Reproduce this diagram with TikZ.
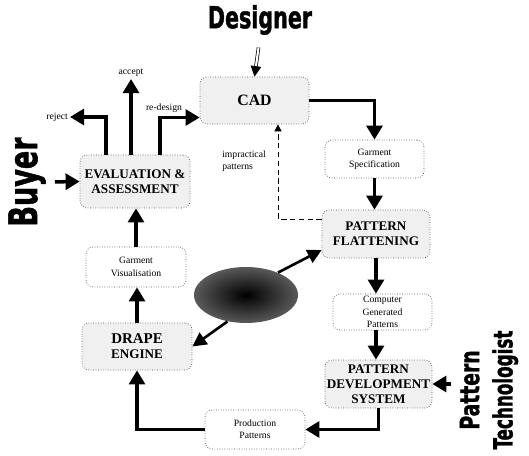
\documentclass[tikz,border=0pt]{standalone}
\usepackage{fontspec}
\setmainfont{Liberation Serif}
\newfontfamily\heavyfont[BoldFeatures={FakeBold=1.5}]{DejaVu Sans Condensed}
\usetikzlibrary{positioning}
\usetikzlibrary{calc}
\usetikzlibrary{arrows.meta}
\usetikzlibrary{shapes.geometric}
\definecolor{boxfill}{gray}{0.94}
\definecolor{boxline}{gray}{0.3}
\definecolor{kbase}{gray}{0.35}
\tikzset{
	procbox/.style={draw=boxline, densely dotted, rounded corners=4pt, fill=boxfill, align=center, inner sep=1pt, font=\fontsize{7.5}{8.5}\selectfont\bfseries},
	databox/.style={draw=boxline, densely dotted, rounded corners=4pt, fill=white, align=center, inner sep=1pt, font=\fontsize{5.5}{7}\selectfont},
	flow/.style={line width=2pt, -{Triangle[width=9pt,length=8pt]}},
	actor/.style={font=\heavyfont\bfseries, inner sep=1pt},
	tag/.style={font=\fontsize{5.5}{7}\selectfont, inner sep=1pt}
}

\begin{document}
\begin{tikzpicture}[x=0.02cm, y=-0.02cm]
	\useasboundingbox (0,0) rectangle (529,456);
	
	% people
	\node[actor] (designer) at (260,20) {\scalebox{0.87}[1.15]{\fontsize{15}{15}\selectfont Designer}};
	\node[actor, rotate=90] (buyer) at (27,182) {\scalebox{0.95}[1.25]{\fontsize{18}{18}\selectfont Buyer}};
	\node[actor, rotate=90, align=center, font=\heavyfont\bfseries\fontsize{12.5}{19}\selectfont] (pattech) at (489,390) {\scalebox{0.95}[1.2]{Pattern}\\\scalebox{0.85}[1.2]{Technologist}};
	
	% right column
	\node[procbox, minimum width=2.18cm, minimum height=0.94cm] (CAD) at (254.5,100.5) {\fontsize{9}{10}\selectfont CAD};
	\node[databox, minimum width=1.98cm, minimum height=0.76cm] (GS) at (374.5,159) {Garment\\Specification};
	\node[procbox, minimum width=2.16cm, minimum height=0.96cm] (PF) at (376,234) {PATTERN\\FLATTENING};
	\node[databox, minimum width=1.98cm, minimum height=0.72cm] (CGP) at (382.5,312) {Computer\\Generated\\Patterns};
	\node[procbox, minimum width=2.14cm, minimum height=0.96cm] (PDS) at (378.5,384) {PATTERN\\DEVELOPMENT\\SYSTEM};
	
	% bottom and left column
	\node[databox, minimum width=2cm, minimum height=0.78cm] (PP) at (255,429.5) {Production\\Patterns};
	\node[procbox, minimum width=2.2cm, minimum height=0.94cm] (DE) at (137,346.5) {\fontsize{8.5}{10}\selectfont DRAPE\\ENGINE};
	\node[databox, minimum width=2cm, minimum height=0.8cm] (GV) at (136,267) {Garment\\Visualisation};
	\node[procbox, minimum width=2.2cm, minimum height=1.06cm] (EA) at (135,181.5) {EVALUATION \&\\ASSESSMENT};
	
	% middle
	\node[ellipse, shading=radial, inner color=black, outer color=kbase, minimum width=2.08cm, minimum height=1.12cm] (kb) at (246,295) {};
	
	% labels
	\node[tag, anchor=east] (rejtxt) at (70,117) {reject};
	\node[tag, anchor=south] (acctxt) at (131,79) {accept};
	\node[tag] (redtxt) at (164,108) {re-design};
	\node[tag, align=left] (imptxt) at (244,161) {impractical\\patterns};
	
	% main loop
	\draw[double, double distance=1.2pt, thin, -{Triangle[width=6pt,length=6pt]}, shorten <=6pt] (designer.south) -- (CAD.north);
	\draw[flow] (CAD.east) -| (GS.north);
	\draw[flow] (GS.south) -- (GS.south |- PF.north);
	\draw[flow] (PF.south) -- (PF.south |- CGP.north);
	\draw[flow] (PF.south |- CGP.south) -- (PF.south |- PDS.north);
	\draw[flow] (PDS.south) |- (PP.east);
	\draw[flow] (PP.west) -| (DE.south);
	\draw[flow] (DE.north) -- (DE.north |- GV.south);
	\draw[flow] (GV.north) -- (GV.north |- EA.south);
	
	% inputs from people
	\draw[flow, shorten <=4pt] (buyer.south) -- (EA.west);
	\draw[flow, shorten <=4pt] (pattech.north |- PDS.east) -- (PDS.east);
	
	% evaluation outputs
	\draw[flow] ($(EA.north)+(-29,0)$) |- (rejtxt.east);
	\draw[flow] (acctxt.south |- EA.north) -- (acctxt.south);
	\draw[flow] ($(EA.north)+(25,0)$) |- ($(CAD.west)+(0,17)$);
	
	% feedback
	\draw[densely dashed, thin, -{Triangle[width=4pt,length=4pt]}] ($(PF.west)+(0,-15)$) -| ($(CAD.south)+(23.5,0)$);
	
	% ellipse links
	\draw[line width=1.5pt, -{Triangle[width=8pt,length=8pt]}] (kb.35) -- ($(PF.west)+(0,16)$);
	\draw[line width=1.5pt, -{Triangle[width=8pt,length=8pt]}] (kb.235) -- (DE.east);
\end{tikzpicture}
\end{document}
